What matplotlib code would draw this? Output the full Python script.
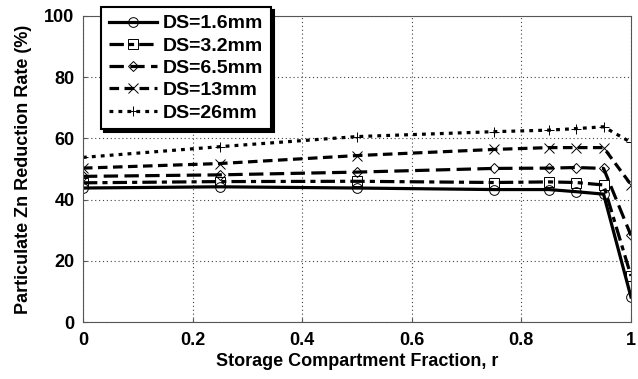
import matplotlib
matplotlib.use("Agg")
import matplotlib.pyplot as plt

plt.rcParams["font.family"] = ["Liberation Sans", "DejaVu Sans"]
plt.rcParams["font.weight"] = "bold"

# storage compartment fraction r
r = [0.0, 0.25, 0.5, 0.75, 0.85, 0.9, 0.95, 1.0]

# particulate Zn reduction rate (%) per settling depth
ds_1_6 = [43.8, 44.2, 43.8, 43.3, 43.3, 42.6, 41.8, 8.2]
ds_3_2 = [45.5, 45.9, 46.0, 45.6, 45.8, 45.6, 44.8, 15.1]
ds_6_5 = [47.6, 48.1, 49.0, 50.2, 50.3, 50.5, 50.2, 28.3]
ds_13 = [50.3, 51.8, 54.4, 56.4, 57.0, 57.0, 57.0, 44.9]
ds_26 = [53.8, 57.3, 60.6, 62.2, 62.7, 63.2, 63.8, 58.7]

labels = ["DS=1.6mm", "DS=3.2mm", "DS=6.5mm", "DS=13mm", "DS=26mm"]

fig = plt.figure(figsize=(6.38, 3.79), dpi=100)
ax = fig.add_axes([0.130, 0.150, 0.859, 0.808])

styles = [
    dict(linestyle="-", marker="o"),
    dict(linestyle=(0, (4.5, 1.6, 1.6, 1.6)), marker="s"),
    dict(linestyle=(0, (4.5, 2)), marker="D", markersize=5.5),
    dict(linestyle=(0, (3, 1.7)), marker="x"),
    dict(linestyle=(0, (1.2, 1.6)), marker="+"),
]

for ys, lab, st in zip([ds_1_6, ds_3_2, ds_6_5, ds_13, ds_26], labels, styles):
    kw = dict(color="black", linewidth=2.3, markersize=7, markerfacecolor="none",
              markeredgecolor="black", markeredgewidth=0.7)
    kw.update(st)
    ax.plot(r, ys, label=lab, **kw)

ax.set_xlim(0, 1)
ax.set_ylim(0, 100)
ax.set_xticks([0, 0.2, 0.4, 0.6, 0.8, 1])
ax.set_xticklabels(["0", "0.2", "0.4", "0.6", "0.8", "1"])
ax.set_yticks([0, 20, 40, 60, 80, 100])
ax.tick_params(labelsize=13, direction="in", length=3, color="#555555")
ax.tick_params(axis="x", pad=7)
ax.tick_params(axis="y", pad=6)
for lbl in ax.get_xticklabels() + ax.get_yticklabels():
    lbl.set_fontweight("bold")

ax.grid(True, linestyle=(0, (1, 2.5)), color="#444444", linewidth=0.8)
for sp in ax.spines.values():
    sp.set_color("#555555")
    sp.set_linewidth(0.8)

ax.set_xlabel("Storage Compartment Fraction, r", fontsize=13, fontweight="bold", labelpad=3)
ax.set_ylabel("Particulate Zn Reduction Rate (%)", fontsize=13, fontweight="bold", labelpad=9)

leg = ax.legend(loc="upper left", bbox_to_anchor=(0.033, 1.029),
                prop=dict(weight="bold", size=14), handlelength=2.5,
                labelspacing=0.24, borderpad=0.4, handletextpad=0.3,
                borderaxespad=0, fancybox=False, framealpha=1,
                shadow=dict(color="black", alpha=1))
leg.get_frame().set_edgecolor("black")
leg.get_frame().set_linewidth(1.5)
leg.set_zorder(5)

fig.savefig("out.png", dpi=100)
